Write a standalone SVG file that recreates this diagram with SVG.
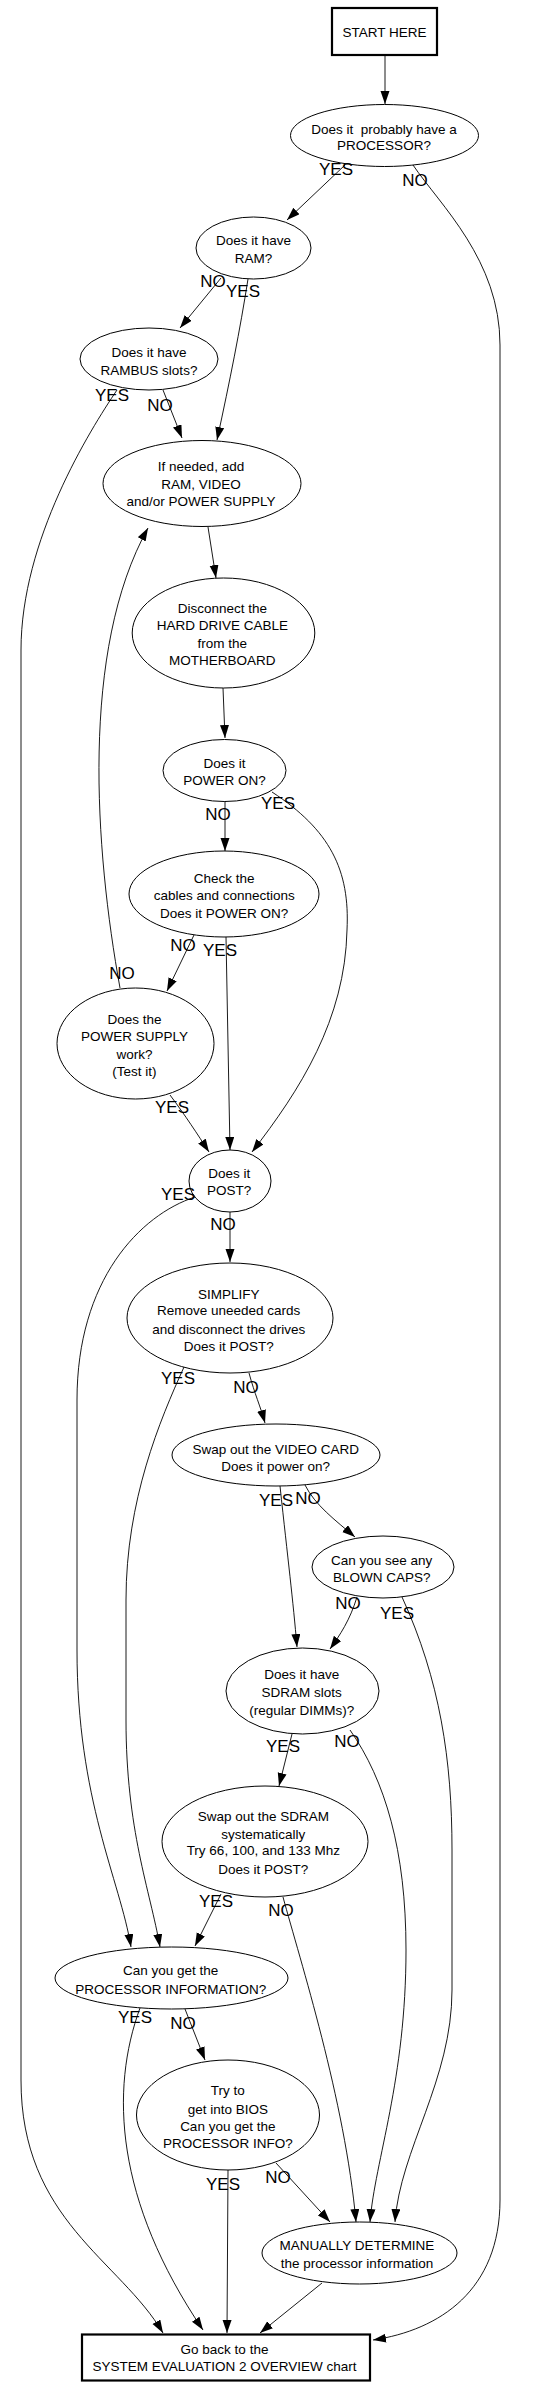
<svg xmlns="http://www.w3.org/2000/svg" width="555" height="2388" viewBox="0 0 555 2388">
<style>
.n{fill:none;stroke:#000;stroke-width:1}
.b{fill:none;stroke:#000;stroke-width:2.2}
.t{font-family:"Liberation Sans",Arial,sans-serif;font-size:13.5px;fill:#000;text-anchor:middle}
.l{font-family:"Liberation Sans",Arial,sans-serif;font-size:17px;fill:#000;text-anchor:middle}
.e{fill:none;stroke:#000;stroke-width:0.9;marker-end:url(#arr)}
</style>
<defs>
<marker id="arr" markerUnits="userSpaceOnUse" markerWidth="14" markerHeight="10" refX="13" refY="4.5" orient="auto">
<path d="M0,0 L13,4.5 L0,9 z" fill="#000"/>
</marker>
</defs>
<rect width="555" height="2388" fill="#fff"/>
<g id="edges">
<path class="e" d="M385,56 L385,104"/>
<path class="e" d="M345,165 L287,220"/>
<path class="e" d="M413,165 C440,205 500,260 500,345 L500,2200 C500,2290 440,2330 373,2340"/>
<path class="e" d="M221,278 L180,328"/>
<path class="e" d="M248,279 C240,330 230,380 217,440"/>
<path class="e" d="M117,390 C90,430 21,540 21,650 L21,2080 C21,2220 120,2260 163,2333"/>
<path class="e" d="M163,390 L182,438"/>
<path class="e" d="M208,527 L216,578"/>
<path class="e" d="M120,988 C95,850 80,650 148,528"/>
<path class="e" d="M223,688 L225,738"/>
<path class="e" d="M225,801 L225,851"/>
<path class="e" d="M272,792 C330,830 350,870 347,930 C345,1020 300,1090 252,1152"/>
<path class="e" d="M194,935 L167,991"/>
<path class="e" d="M226,937 L230,1150"/>
<path class="e" d="M170,1095 C185,1115 198,1135 209,1152"/>
<path class="e" d="M230,1212 L230,1262"/>
<path class="e" d="M195,1197 C140,1215 77,1280 77,1400 L77,1650 C77,1800 120,1880 131,1947"/>
<path class="e" d="M184,1367 C160,1420 126,1500 126,1600 L126,1720 C126,1830 150,1890 160,1947"/>
<path class="e" d="M249,1373 C255,1395 260,1405 265,1423"/>
<path class="e" d="M305,1485 C315,1505 335,1520 355,1537"/>
<path class="e" d="M280,1486 C288,1560 293,1600 297,1647"/>
<path class="e" d="M357,1597 C350,1620 340,1635 330,1649"/>
<path class="e" d="M402,1597 C440,1680 452,1760 452,1850 L452,1990 C452,2080 400,2150 395,2222"/>
<path class="e" d="M292,1734 L279,1786"/>
<path class="e" d="M350,1730 C385,1780 406,1850 406,1950 C406,2080 375,2160 370,2222"/>
<path class="e" d="M221,1894 L195,1946"/>
<path class="e" d="M283,1897 C300,1960 345,2100 356,2222"/>
<path class="e" d="M140,2008 C110,2090 115,2200 203,2330"/>
<path class="e" d="M185,2009 L205,2060"/>
<path class="e" d="M228,2170 L227,2333"/>
<path class="e" d="M276,2163 L330,2222"/>
<path class="e" d="M322,2283 L260,2333"/>
<text class="l" x="336" y="175">YES</text>
<text class="l" x="415" y="186">NO</text>
<text class="l" x="213" y="287">NO</text>
<text class="l" x="243" y="297">YES</text>
<text class="l" x="112" y="401">YES</text>
<text class="l" x="160" y="411">NO</text>
<text class="l" x="218" y="820">NO</text>
<text class="l" x="278" y="809">YES</text>
<text class="l" x="183" y="951">NO</text>
<text class="l" x="220" y="956">YES</text>
<text class="l" x="122" y="979">NO</text>
<text class="l" x="172" y="1113">YES</text>
<text class="l" x="178" y="1200">YES</text>
<text class="l" x="223" y="1230">NO</text>
<text class="l" x="178" y="1384">YES</text>
<text class="l" x="246" y="1393">NO</text>
<text class="l" x="276" y="1506">YES</text>
<text class="l" x="308" y="1504">NO</text>
<text class="l" x="348" y="1609">NO</text>
<text class="l" x="397" y="1619">YES</text>
<text class="l" x="283" y="1752">YES</text>
<text class="l" x="347" y="1747">NO</text>
<text class="l" x="216" y="1907">YES</text>
<text class="l" x="281" y="1916">NO</text>
<text class="l" x="135" y="2023">YES</text>
<text class="l" x="183" y="2029">NO</text>
<text class="l" x="223" y="2190">YES</text>
<text class="l" x="278" y="2183">NO</text>
</g>
<g id="start">
<rect class="b" x="332" y="8" width="105" height="47" fill="#fff"/>
<text class="t" x="384.5" y="37.3">START HERE</text>
</g>
<g id="processor">
<ellipse class="n" cx="384.5" cy="135.5" rx="94" ry="31"/>
<text class="t" x="384" y="133.5" style="white-space:pre">Does it  probably have a</text>
<text class="t" x="384" y="150.3">PROCESSOR?</text>
</g>
<g id="ram">
<ellipse class="n" cx="253.5" cy="248" rx="57.5" ry="31"/>
<text class="t" x="253.5" y="245.3">Does it have</text>
<text class="t" x="253.5" y="262.6">RAM?</text>
</g>
<g id="rambus">
<ellipse class="n" cx="149" cy="359" rx="69" ry="31"/>
<text class="t" x="149" y="357">Does it have</text>
<text class="t" x="149" y="374.6">RAMBUS slots?</text>
</g>
<g id="ifneeded">
<ellipse class="n" cx="202" cy="483.5" rx="99" ry="43"/>
<text class="t" x="201" y="471.3">If needed, add</text>
<text class="t" x="201" y="489.3">RAM, VIDEO</text>
<text class="t" x="201" y="506.3">and/or POWER SUPPLY</text>
</g>
<g id="disconnect">
<ellipse class="n" cx="223.5" cy="633" rx="91.3" ry="55"/>
<text class="t" x="222.3" y="612.5">Disconnect the</text>
<text class="t" x="222.3" y="630.3">HARD DRIVE CABLE</text>
<text class="t" x="222.3" y="647.6">from the</text>
<text class="t" x="222.3" y="665.3">MOTHERBOARD</text>
</g>
<g id="poweron">
<ellipse class="n" cx="224.5" cy="770.5" rx="61.5" ry="31"/>
<text class="t" x="224.5" y="767.5">Does it</text>
<text class="t" x="224.5" y="785.3">POWER ON?</text>
</g>
<g id="check">
<ellipse class="n" cx="224" cy="894" rx="95" ry="43"/>
<text class="t" x="224.2" y="882.6">Check the</text>
<text class="t" x="224.2" y="899.6">cables and connections</text>
<text class="t" x="224.2" y="917.6">Does it POWER ON?</text>
</g>
<g id="psu">
<ellipse class="n" cx="135.5" cy="1043.5" rx="78.5" ry="55.5"/>
<text class="t" x="134.5" y="1023.6">Does the</text>
<text class="t" x="134.5" y="1041">POWER SUPPLY</text>
<text class="t" x="134.5" y="1058.6">work?</text>
<text class="t" x="134.5" y="1076">(Test it)</text>
</g>
<g id="post">
<ellipse class="n" cx="230" cy="1181" rx="41" ry="31"/>
<text class="t" x="229.2" y="1178">Does it</text>
<text class="t" x="229.2" y="1195.3">POST?</text>
</g>
<g id="simplify">
<ellipse class="n" cx="230" cy="1318" rx="103" ry="55"/>
<text class="t" x="228.7" y="1298.6">SIMPLIFY</text>
<text class="t" x="228.7" y="1315.3">Remove uneeded cards</text>
<text class="t" x="228.7" y="1333.6">and disconnect the drives</text>
<text class="t" x="228.7" y="1351">Does it POST?</text>
</g>
<g id="video">
<ellipse class="n" cx="276" cy="1455" rx="104" ry="31"/>
<text class="t" x="275.7" y="1453.6">Swap out the VIDEO CARD</text>
<text class="t" x="275.7" y="1471">Does it power on?</text>
</g>
<g id="caps">
<ellipse class="n" cx="383" cy="1567" rx="71" ry="31"/>
<text class="t" x="381.7" y="1565.3">Can you see any</text>
<text class="t" x="381.7" y="1582">BLOWN CAPS?</text>
</g>
<g id="sdramslots">
<ellipse class="n" cx="302.5" cy="1691" rx="76.5" ry="43"/>
<text class="t" x="301.7" y="1679.3">Does it have</text>
<text class="t" x="301.7" y="1697">SDRAM slots</text>
<text class="t" x="301.7" y="1714.6">(regular DIMMs)?</text>
</g>
<g id="swapsdram">
<ellipse class="n" cx="265" cy="1841.5" rx="103" ry="55.5"/>
<text class="t" x="263.3" y="1821.3">Swap out the SDRAM</text>
<text class="t" x="263.3" y="1838.6">systematically</text>
<text class="t" x="263.3" y="1855.3">Try 66, 100, and 133 Mhz</text>
<text class="t" x="263.3" y="1873.6">Does it POST?</text>
</g>
<g id="procinfo">
<ellipse class="n" cx="171.5" cy="1978" rx="116.5" ry="31"/>
<text class="t" x="170.7" y="1975.3">Can you get the</text>
<text class="t" x="170.7" y="1993.6">PROCESSOR INFORMATION?</text>
</g>
<g id="bios">
<ellipse class="n" cx="228" cy="2115" rx="91.5" ry="55"/>
<text class="t" x="227.8" y="2095.3">Try to</text>
<text class="t" x="227.8" y="2113.6">get into BIOS</text>
<text class="t" x="227.8" y="2131">Can you get the</text>
<text class="t" x="227.8" y="2148">PROCESSOR INFO?</text>
</g>
<g id="manual">
<ellipse class="n" cx="359.5" cy="2253" rx="97.5" ry="31"/>
<text class="t" x="357" y="2249.6">MANUALLY DETERMINE</text>
<text class="t" x="357" y="2267.6">the processor information</text>
</g>
<g id="goback">
<rect class="b" x="82" y="2334.5" width="288" height="46"/>
<text class="t" x="224.5" y="2354.3">Go back to the</text>
<text class="t" x="224.5" y="2371">SYSTEM EVALUATION 2 OVERVIEW chart</text>
</g>
</svg>
